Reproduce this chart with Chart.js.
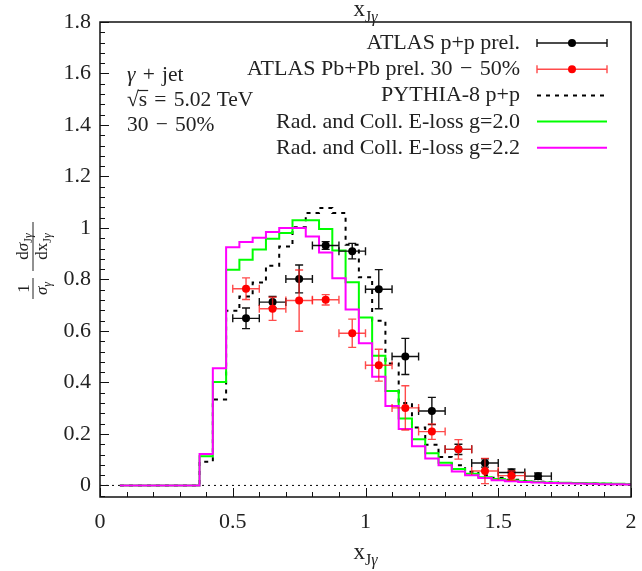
<!DOCTYPE html>
<html>
<head>
<meta charset="utf-8">
<script src="https://cdn.jsdelivr.net/npm/chart.js@4/dist/chart.umd.min.js"></script>
<style>
  html, body { margin: 0; padding: 0; background: #fff; }
  canvas { display: block; }
</style>
</head>
<body>
<canvas id="c" width="642" height="571"></canvas>
<script>
// x_Jgamma histogram bins (width 0.05), given by their centres
const binCenters = [0.10,0.15,0.20,0.25,0.30,0.35,0.40,0.45,0.50,0.55,0.60,0.65,0.70,0.75,0.80,0.85,0.90,0.95,1.00,1.05,1.10,1.15,1.20,1.25,1.30,1.35,1.40,1.45,1.50,1.55,1.60,1.65,1.70,1.75,1.80,1.85,1.90,1.95,2.00];
const binHalfWidth = 0.025;

// PYTHIA-8 p+p baseline
const pythiaPP = [0,0,0,0,0,0,0.092,0.334,0.678,0.734,0.788,0.853,0.928,1.003,1.058,1.078,1.058,0.935,0.809,0.640,0.474,0.320,0.225,0.158,0.110,0.078,0.053,0.039,0.030,0.022,0.017,0.014,0.011,0.009,0.008,0.007,0.006,0.005,0.004];
// Radiative + collisional energy loss, g = 2.0
const elossG20 = [0,0,0,0,0,0,0.113,0.402,0.838,0.877,0.916,0.958,0.980,1.030,1.030,0.996,0.912,0.789,0.652,0.504,0.367,0.260,0.179,0.125,0.088,0.064,0.045,0.032,0.025,0.019,0.016,0.013,0.011,0.010,0.009,0.008,0.007,0.006,0.005];
// Radiative + collisional energy loss, g = 2.2
const elossG22 = [0,0,0,0,0,0,0.122,0.455,0.925,0.945,0.962,0.984,1.000,1.000,0.967,0.905,0.805,0.683,0.552,0.422,0.308,0.219,0.152,0.105,0.078,0.054,0.039,0.029,0.020,0.016,0.013,0.011,0.009,0.008,0.007,0.006,0.005,0.005,0.004];

// ATLAS p+p preliminary
const ppX   = [0.55,0.65,0.75,0.85,0.95,1.05,1.15,1.25,1.35,1.45,1.55,1.65];
const ppY   = [0.649,0.712,0.802,0.932,0.910,0.762,0.501,0.289,0.140,0.087,0.050,0.036];
const ppErr = [0.040,0.022,0.054,0.015,0.030,0.076,0.070,0.053,0.020,0.016,0.014,0.012];

// ATLAS Pb+Pb preliminary, 30-50% centrality
const pbX   = [0.55,0.65,0.75,0.85,0.95,1.05,1.15,1.25,1.35,1.45,1.55];
const pbY   = [0.764,0.686,0.718,0.721,0.591,0.467,0.301,0.209,0.140,0.056,0.038];
const pbErr = [0.042,0.045,0.119,0.020,0.055,0.062,0.086,0.030,0.038,0.049,0.018];
const pointHalfWidth = 0.05;

// axis ticks
const xTicks = [0, 0.5, 1, 1.5, 2];
const yTicks = [0, 0.2, 0.4, 0.6, 0.8, 1, 1.2, 1.4, 1.6, 1.8];
const xMinorStep = 0.1;
const yMinorStep = 0.04;

const SERIF = "'Liberation Serif', 'DejaVu Serif', serif";
const SP = '\u2004'; // slightly wider space around binary operators

function stepPoints(values) {
  const pts = binCenters.map((c, i) => ({ x: c - binHalfWidth, y: values[i] }));
  const n = binCenters.length - 1;
  pts.push({ x: binCenters[n] + binHalfWidth, y: values[n] });
  return pts;
}
function pointData(xs, ys) { return xs.map((x, i) => ({ x, y: ys[i] })); }

function fontOf(p) {
  return (p.i ? 'italic ' : '') + (p.s || 20) + 'px ' + SERIF;
}
// draw a run of text pieces (with sizes, italics and baseline shifts)
function rich(ctx, parts, x, y, align) {
  let w = 0;
  parts.forEach(p => { ctx.font = fontOf(p); w += ctx.measureText(p.t).width; });
  let cx = align === 'right' ? x - w : align === 'center' ? x - w / 2 : x;
  ctx.textAlign = 'left';
  ctx.textBaseline = 'alphabetic';
  parts.forEach(p => {
    ctx.font = fontOf(p);
    ctx.fillText(p.t, cx, y + (p.dy || 0));
    cx += ctx.measureText(p.t).width;
  });
  return w;
}
function xJgLabel(size) {
  const sub = Math.round(size * 0.68);
  return [{ t: 'x', s: size }, { t: 'J', s: sub, dy: size * 0.25 }, { t: 'γ', s: sub, i: true, dy: size * 0.25 }];
}

const errorBars = {
  id: 'errorBars',
  beforeDatasetDraw(chart, args) {
    const ds = chart.data.datasets[args.index];
    if (!ds.errY) return;
    const { ctx, scales: { x, y } } = chart;
    ctx.save();
    ctx.strokeStyle = ds.errColor;
    ctx.lineWidth = 1.4;
    const cap = 4;
    ds.data.forEach((p, i) => {
      const px = x.getPixelForValue(p.x), py = y.getPixelForValue(p.y);
      const xl = x.getPixelForValue(p.x - pointHalfWidth), xr = x.getPixelForValue(p.x + pointHalfWidth);
      const yt = y.getPixelForValue(p.y + ds.errY[i]), yb = y.getPixelForValue(p.y - ds.errY[i]);
      ctx.beginPath();
      ctx.moveTo(xl, py); ctx.lineTo(xr, py);
      ctx.moveTo(xl, py - cap); ctx.lineTo(xl, py + cap);
      ctx.moveTo(xr, py - cap); ctx.lineTo(xr, py + cap);
      ctx.moveTo(px, yt); ctx.lineTo(px, yb);
      ctx.moveTo(px - cap, yt); ctx.lineTo(px + cap, yt);
      ctx.moveTo(px - cap, yb); ctx.lineTo(px + cap, yb);
      ctx.stroke();
    });
    ctx.restore();
  }
};

const frameAndText = {
  id: 'frameAndText',
  afterDraw(chart) {
    const { ctx, chartArea: a, scales: { x, y } } = chart;
    ctx.save();
    // inward tick marks
    ctx.strokeStyle = '#111';
    ctx.lineWidth = 1;
    ctx.beginPath();
    for (let k = 0; k <= 20; k++) {
      const v = k * xMinorStep;
      const px = Math.round(x.getPixelForValue(v)) + 0.5;
      const len = (k % 5 === 0) ? 9 : 5;
      ctx.moveTo(px, a.bottom); ctx.lineTo(px, a.bottom - len);
    }
    for (let k = -1; k <= 45; k++) {
      const v = k * yMinorStep;
      const py = Math.round(y.getPixelForValue(v)) + 0.5;
      if (py < a.top || py > a.bottom) continue;
      const len = (k % 5 === 0) ? 9 : 5;
      ctx.moveTo(a.left, py); ctx.lineTo(a.left + len, py);
    }
    ctx.stroke();
    // frame
    ctx.lineWidth = 1.5;
    ctx.strokeStyle = '#111';
    ctx.strokeRect(a.left, a.top, a.right - a.left, a.bottom - a.top);

    ctx.fillStyle = '#222';
    const cx = (a.left + a.right) / 2;
    // top and bottom axis titles
    rich(ctx, xJgLabel(23), cx, 16, 'center');
    rich(ctx, xJgLabel(23), cx, 559, 'center');

    // y-axis title: (1/sigma_gamma) dsigma_Jgamma / dx_Jgamma, rotated
    ctx.save();
    ctx.translate(33, 262);
    ctx.rotate(-Math.PI / 2);
    ctx.strokeStyle = '#222';
    ctx.lineWidth = 1;
    const fs = 17, ss = 12;
    ctx.beginPath(); ctx.moveTo(-37, 0); ctx.lineTo(-16, 0);
    ctx.moveTo(-9, 0); ctx.lineTo(40, 0); ctx.stroke();
    rich(ctx, [{ t: '1', s: fs }], -26.5, -4, 'center');
    rich(ctx, [{ t: 'σ', s: fs, i: true }, { t: 'γ', s: ss, i: true, dy: 4 }], -26.5, 14, 'center');
    rich(ctx, [{ t: 'd', s: fs }, { t: 'σ', s: fs, i: true }, { t: 'J', s: ss, dy: 4 }, { t: 'γ', s: ss, i: true, dy: 4 }], 15.5, -5, 'center');
    rich(ctx, [{ t: 'dx', s: fs }, { t: 'J', s: ss, dy: 4 }, { t: 'γ', s: ss, i: true, dy: 4 }], 15.5, 14, 'center');
    ctx.restore();

    // process / energy / centrality notes
    const ns = 21.5;
    rich(ctx, [{ t: 'γ', s: ns, i: true }, { t: SP + '+' + SP + 'jet', s: ns }], 127, 81, 'left');
    ctx.font = ns + 'px ' + SERIF;
    const rootW = ctx.measureText('√').width;
    const sW = ctx.measureText('s').width;
    rich(ctx, [{ t: '√', s: ns }, { t: 's' + SP + '=' + SP + '5.02 TeV', s: ns }], 127, 106, 'left');
    ctx.strokeStyle = '#222';
    ctx.lineWidth = 1.2;
    ctx.beginPath();
    ctx.moveTo(127 + rootW - 1, 90.5); ctx.lineTo(127 + rootW + sW + 1, 90.5);
    ctx.stroke();
    rich(ctx, [{ t: '30' + SP + '−' + SP + '50%', s: ns }], 127, 131, 'left');

    // legend
    const rows = [
      { label: 'ATLAS p+p prel.', kind: 'pt', color: '#000', bar: '#111' },
      { label: 'ATLAS Pb+Pb prel. 30' + SP + '−' + SP + '50%', kind: 'pt', color: '#ff0000', bar: 'rgba(255,30,30,0.8)' },
      { label: 'PYTHIA-8 p+p', kind: 'dash', color: '#000' },
      { label: 'Rad. and Coll. E-loss g=2.0', kind: 'line', color: '#00ff00' },
      { label: 'Rad. and Coll. E-loss g=2.2', kind: 'line', color: '#ff00ff' }
    ];
    const ls = 22, textRight = 520, x0 = 537, x1 = 607, rowY0 = 43, rowDy = 26.2;
    rows.forEach((r, i) => {
      const yy = rowY0 + i * rowDy;
      ctx.fillStyle = '#222';
      rich(ctx, [{ t: r.label, s: ls }], textRight, yy + 6, 'right');
      ctx.save();
      if (r.kind === 'pt') {
        ctx.strokeStyle = r.bar; ctx.lineWidth = 1.4;
        ctx.beginPath();
        ctx.moveTo(x0, yy); ctx.lineTo(x1, yy);
        ctx.moveTo(x0, yy - 4); ctx.lineTo(x0, yy + 4);
        ctx.moveTo(x1, yy - 4); ctx.lineTo(x1, yy + 4);
        ctx.stroke();
        ctx.fillStyle = r.color;
        ctx.beginPath(); ctx.arc((x0 + x1) / 2, yy, 4, 0, Math.PI * 2); ctx.fill();
      } else {
        ctx.strokeStyle = r.color; ctx.lineWidth = 2;
        if (r.kind === 'dash') ctx.setLineDash([4, 5]);
        ctx.beginPath(); ctx.moveTo(x0, yy); ctx.lineTo(x1, yy); ctx.stroke();
      }
      ctx.restore();
    });
    ctx.restore();
  }
};

const histo = (label, values, color, dash, order) => ({
  label, type: 'line', data: stepPoints(values), stepped: 'before',
  borderColor: color, borderWidth: 2, borderDash: dash, pointRadius: 0,
  fill: false, order
});
const points = (label, xs, ys, errs, color, errColor, order) => ({
  label, type: 'scatter', data: pointData(xs, ys), errY: errs, errColor,
  backgroundColor: color, borderColor: color, pointRadius: 4, pointBorderWidth: 0,
  showLine: false, order
});

new Chart(document.getElementById('c'), {
  type: 'line',
  data: {
    datasets: [
      points('ATLAS Pb+Pb prel. 30 − 50%', pbX, pbY, pbErr, '#ff0000', 'rgba(255,30,30,0.8)', 0),
      points('ATLAS p+p prel.', ppX, ppY, ppErr, '#000000', '#111111', 1),
      histo('Rad. and Coll. E-loss g=2.2', elossG22, '#ff00ff', [], 2),
      histo('Rad. and Coll. E-loss g=2.0', elossG20, '#00ff00', [], 3),
      histo('PYTHIA-8 p+p', pythiaPP, '#000000', [4, 5], 4),
      { label: 'zero', type: 'line', data: [{ x: 0, y: 0 }, { x: 2, y: 0 }],
        borderColor: '#000', borderWidth: 1, borderDash: [2, 4], pointRadius: 0, order: 5 }
    ]
  },
  options: {
    responsive: false,
    animation: false,
    devicePixelRatio: 1,
    layout: { padding: { top: 22, right: 11, left: 0, bottom: 0 } },
    plugins: { legend: { display: false }, tooltip: { enabled: false } },
    scales: {
      x: {
        type: 'linear', min: 0, max: 2,
        grid: { display: false, drawTicks: false },
        border: { display: false },
        afterBuildTicks: s => { s.ticks = xTicks.map(v => ({ value: v })); },
        afterFit: s => { s.height = 74; s.paddingLeft = 0; s.paddingRight = 0; },
        ticks: {
          padding: 12, color: '#222', maxRotation: 0,
          font: { family: SERIF, size: 22 },
          callback: v => String(v)
        }
      },
      y: {
        type: 'linear', min: -0.045, max: 1.8,
        grid: { display: false, drawTicks: false },
        border: { display: false },
        afterBuildTicks: s => { s.ticks = yTicks.map(v => ({ value: v })); },
        afterFit: s => { s.width = 100; s.paddingTop = 0; s.paddingBottom = 0; },
        ticks: {
          padding: 9, color: '#222',
          font: { family: SERIF, size: 22 },
          callback: v => String(Math.round(v * 10) / 10)
        }
      }
    }
  },
  plugins: [errorBars, frameAndText]
});
</script>
</body>
</html>
